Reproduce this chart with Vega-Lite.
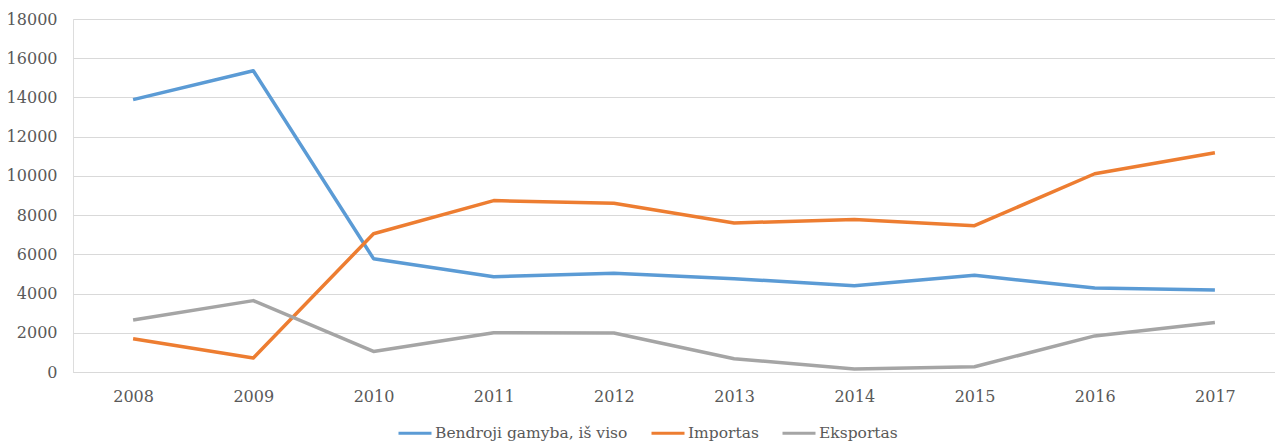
{
  "$schema": "https://vega.github.io/schema/vega-lite/v6.json",
  "autosize": {"type": "none"},
  "width": 1202,
  "height": 353,
  "padding": {"left": 73, "top": 19, "right": 0, "bottom": 69},
  "background": "white",
  "data": {
    "values": [
      {"year": "2008", "series": "Bendroji gamyba, iš viso", "value": 13890},
      {"year": "2009", "series": "Bendroji gamyba, iš viso", "value": 15360},
      {"year": "2010", "series": "Bendroji gamyba, iš viso", "value": 5780},
      {"year": "2011", "series": "Bendroji gamyba, iš viso", "value": 4860},
      {"year": "2012", "series": "Bendroji gamyba, iš viso", "value": 5030},
      {"year": "2013", "series": "Bendroji gamyba, iš viso", "value": 4760},
      {"year": "2014", "series": "Bendroji gamyba, iš viso", "value": 4400},
      {"year": "2015", "series": "Bendroji gamyba, iš viso", "value": 4930},
      {"year": "2016", "series": "Bendroji gamyba, iš viso", "value": 4280},
      {"year": "2017", "series": "Bendroji gamyba, iš viso", "value": 4180},
      {"year": "2008", "series": "Importas", "value": 1700},
      {"year": "2009", "series": "Importas", "value": 710},
      {"year": "2010", "series": "Importas", "value": 7050},
      {"year": "2011", "series": "Importas", "value": 8740},
      {"year": "2012", "series": "Importas", "value": 8600},
      {"year": "2013", "series": "Importas", "value": 7600},
      {"year": "2014", "series": "Importas", "value": 7780},
      {"year": "2015", "series": "Importas", "value": 7460},
      {"year": "2016", "series": "Importas", "value": 10110},
      {"year": "2017", "series": "Importas", "value": 11180},
      {"year": "2008", "series": "Eksportas", "value": 2650},
      {"year": "2009", "series": "Eksportas", "value": 3640},
      {"year": "2010", "series": "Eksportas", "value": 1050},
      {"year": "2011", "series": "Eksportas", "value": 2000},
      {"year": "2012", "series": "Eksportas", "value": 1990},
      {"year": "2013", "series": "Eksportas", "value": 680},
      {"year": "2014", "series": "Eksportas", "value": 150},
      {"year": "2015", "series": "Eksportas", "value": 270},
      {"year": "2016", "series": "Eksportas", "value": 1840},
      {"year": "2017", "series": "Eksportas", "value": 2520}
    ]
  },
  "mark": {"type": "line", "strokeWidth": 3.5, "strokeJoin": "round", "strokeCap": "butt"},
  "encoding": {
    "x": {
      "field": "year",
      "type": "ordinal",
      "scale": {"type": "point", "padding": 0.5},
      "axis": {
        "title": null,
        "labelAngle": 0,
        "ticks": false,
        "domain": true,
        "domainColor": "#D9D9D9",
        "domainWidth": 1,
        "grid": false,
        "labelPadding": 16,
        "labelFont": "DejaVu Serif",
        "labelFontSize": 16,
        "labelColor": "#595959"
      }
    },
    "y": {
      "field": "value",
      "type": "quantitative",
      "scale": {"domain": [0, 18000], "nice": false},
      "axis": {
        "title": null,
        "values": [0, 2000, 4000, 6000, 8000, 10000, 12000, 14000, 16000, 18000],
        "format": "d",
        "ticks": false,
        "domain": false,
        "grid": true,
        "gridColor": "#D9D9D9",
        "gridWidth": 1,
        "labelPadding": 16,
        "labelFont": "DejaVu Serif",
        "labelFontSize": 16,
        "labelColor": "#595959"
      }
    },
    "color": {
      "field": "series",
      "type": "nominal",
      "sort": ["Bendroji gamyba, iš viso", "Importas", "Eksportas"],
      "scale": {
        "domain": ["Bendroji gamyba, iš viso", "Importas", "Eksportas"],
        "range": ["#5B9BD5", "#ED7D31", "#A5A5A5"]
      },
      "legend": {
        "title": null,
        "orient": "none",
        "direction": "horizontal",
        "legendX": 324,
        "legendY": 396,
        "symbolType": "stroke",
        "symbolSize": 1089,
        "symbolStrokeWidth": 3,
        "labelOffset": 2,
        "labelLimit": 400,
        "columnPadding": 17,
        "labelFont": "DejaVu Serif",
        "labelFontSize": 15.5,
        "labelColor": "#595959"
      }
    }
  }
}
